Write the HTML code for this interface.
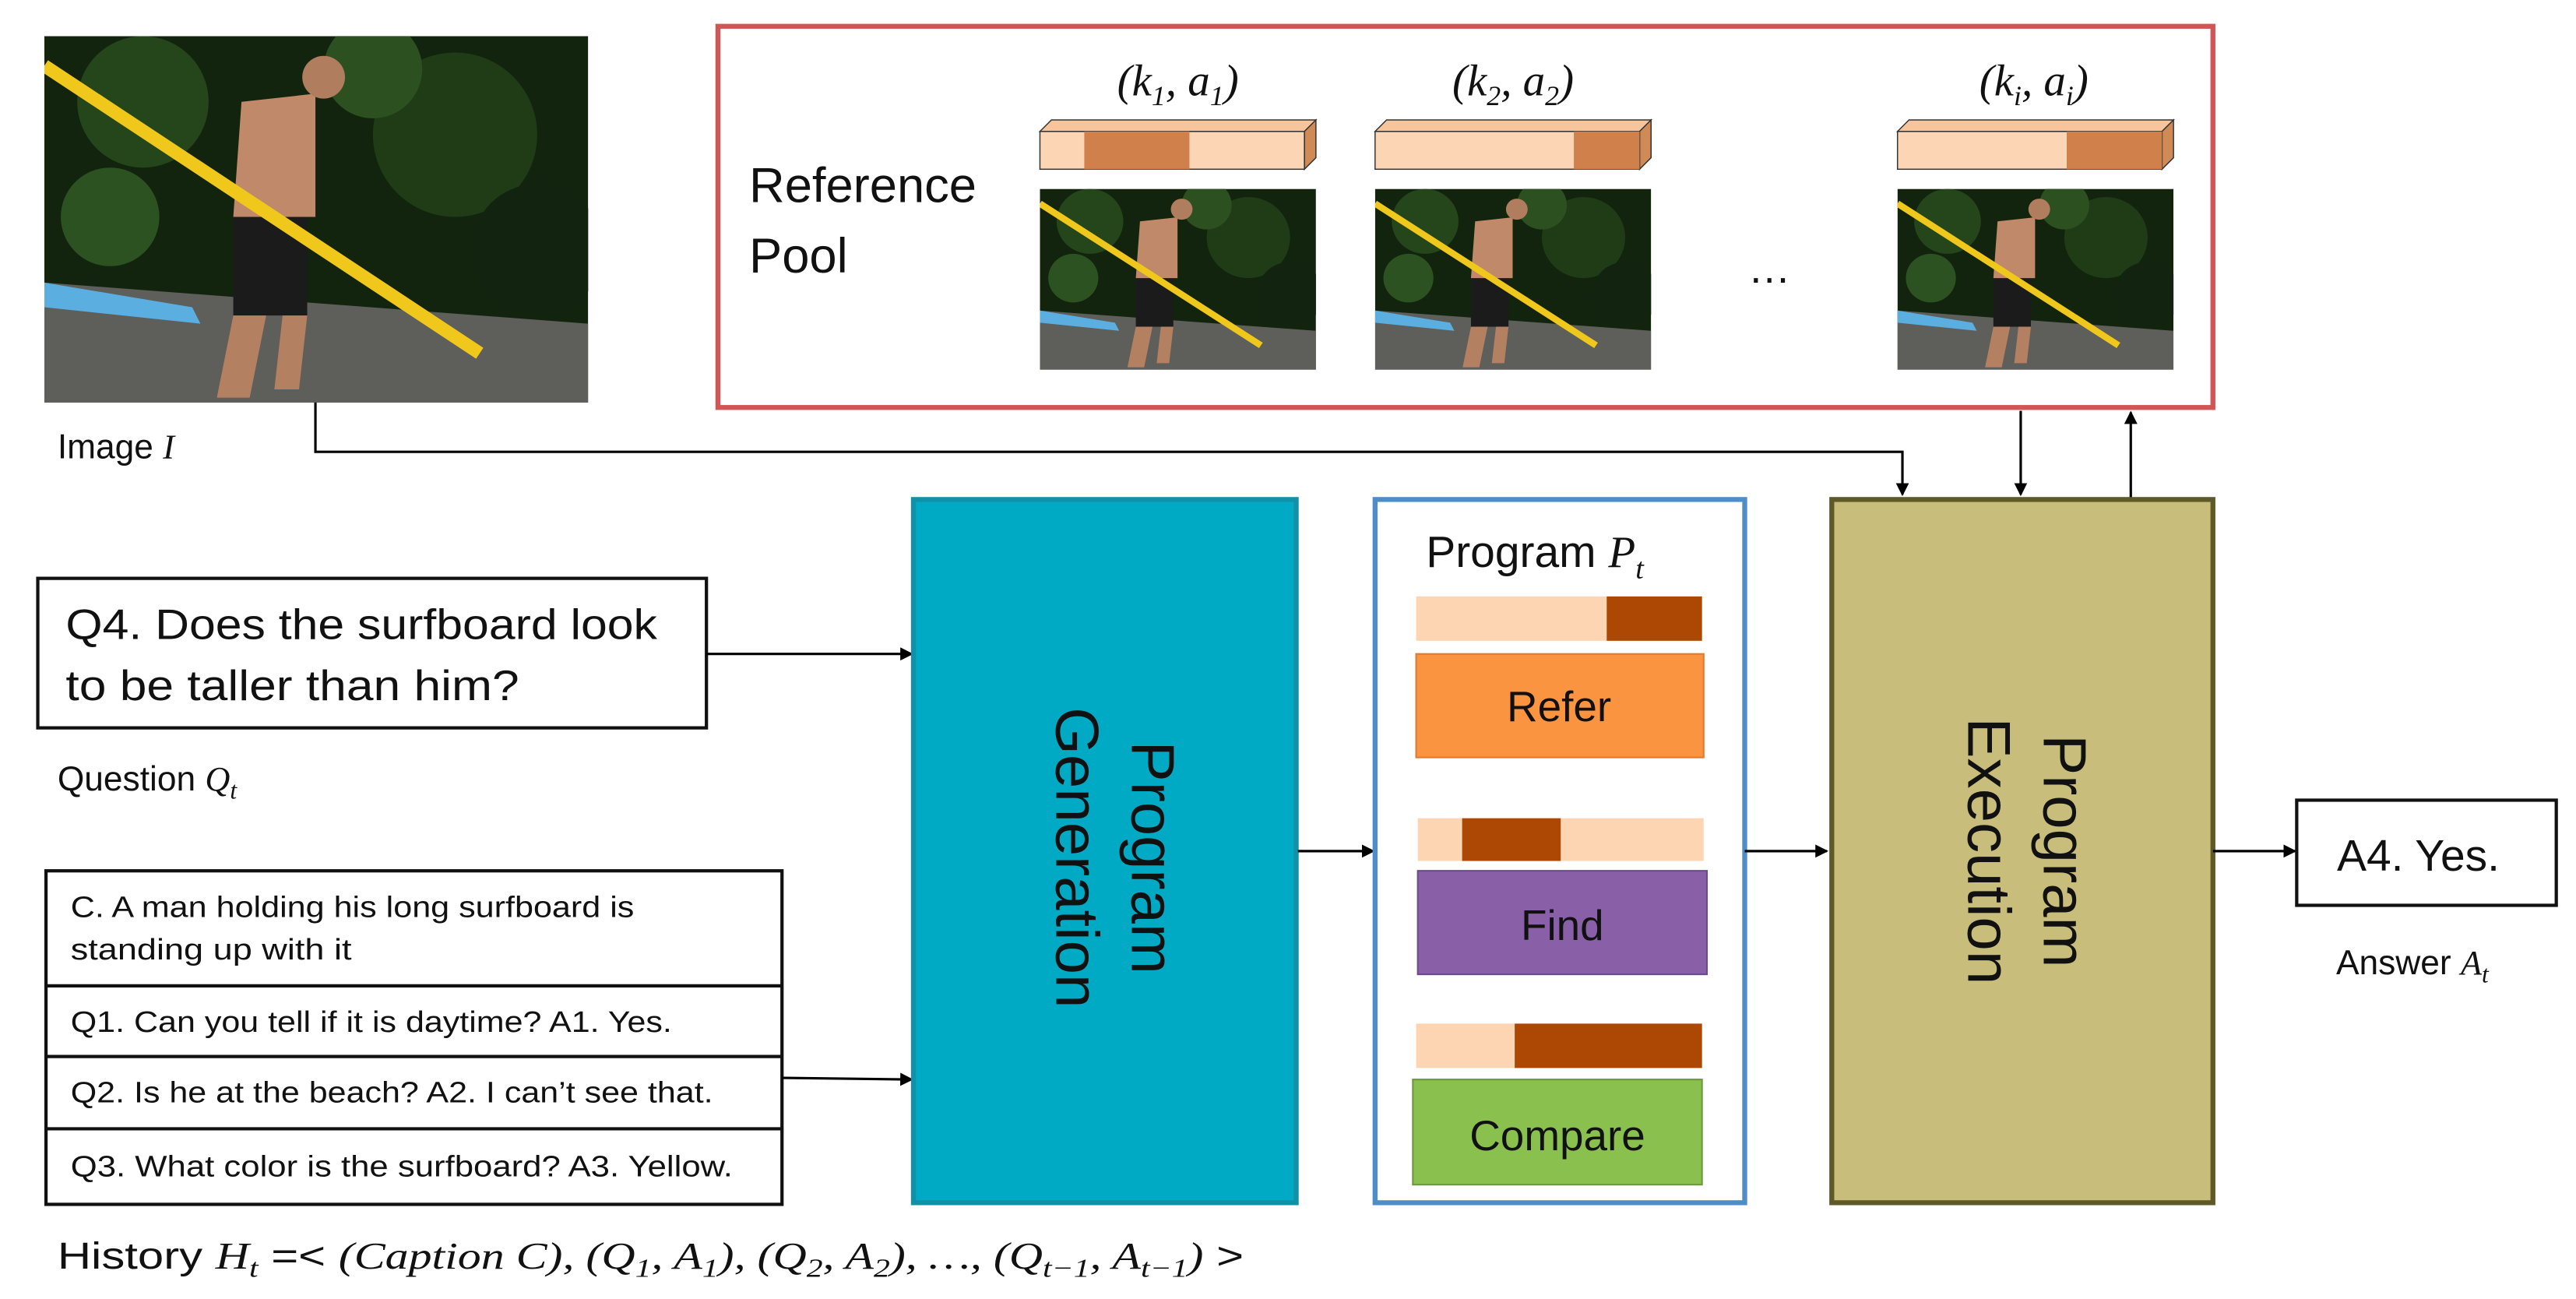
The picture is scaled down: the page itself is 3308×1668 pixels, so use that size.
<!DOCTYPE html>
<html><head><meta charset="utf-8"><style>
html,body{margin:0;padding:0;background:#fff;}
svg{display:block;}
text{font-family:"Liberation Sans",sans-serif;fill:#111;}
.m{font-family:"Liberation Serif",serif;font-style:italic;}
</style></head><body>
<svg width="3308" height="1668" viewBox="0 0 1568 790.6" preserveAspectRatio="none" xmlns="http://www.w3.org/2000/svg">
<defs>
<marker id="ar" markerWidth="8" markerHeight="8" refX="7" refY="4" orient="auto" markerUnits="userSpaceOnUse">
<path d="M0,0 L8,4 L0,8 z" fill="#000"/></marker>
<symbol id="photo" viewBox="0 0 331 223" preserveAspectRatio="none">
<rect width="331" height="223" fill="#13240e"/>
<circle cx="60" cy="40" r="40" fill="#24461a"/><circle cx="250" cy="60" r="50" fill="#1f3c16"/>
<circle cx="300" cy="130" r="40" fill="#122410"/><circle cx="40" cy="110" r="30" fill="#2b5220"/>
<circle cx="200" cy="20" r="30" fill="#2c5020"/>
<polygon points="0,150 331,175 331,223 0,223" fill="#5e5e5a"/>
<polygon points="0,150 90,165 95,175 0,165" fill="#5aaee0"/>
<rect x="115" y="110" width="45" height="60" fill="#1b1b1b"/>
<polygon points="120,40 165,35 165,110 115,110" fill="#c08a6a"/>
<circle cx="170" cy="25" r="13" fill="#b07e5e"/>
<polygon points="115,170 135,170 125,220 105,220" fill="#b48062"/>
<polygon points="145,170 160,170 155,215 140,215" fill="#b48062"/>
<line x1="0" y1="18" x2="265" y2="193" stroke="#f0c81c" stroke-width="8"/>
</symbol>
</defs>

<use href="#photo" x="27" y="22" width="331" height="223"/>
<text x="35" y="279" font-size="21">Image <tspan class="m">I</tspan></text>

<rect x="437" y="16" width="910" height="232" fill="#fff" stroke="#d05555" stroke-width="3"/>
<text x="456" y="123" font-size="30">Reference</text>
<text x="456" y="166" font-size="30">Pool</text>

<g>
<text x="717" y="58" font-size="27" text-anchor="middle" class="m">(k<tspan font-size="17" dy="6">1</tspan><tspan dy="-6">, a</tspan><tspan font-size="17" dy="6">1</tspan><tspan dy="-6">)</tspan></text>
<polygon points="633,80 640,73 801,73 794,80" fill="#f7c49b" stroke="#333" stroke-width="0.7"/>
<polygon points="794,80 801,73 801,96 794,103" fill="#d08a55" stroke="#333" stroke-width="0.7"/>
<rect x="633" y="80" width="161" height="23" fill="#fcd5b5" stroke="#333" stroke-width="0.7"/>
<rect x="660" y="80" width="64" height="23" fill="#d0804a"/>
<use href="#photo" x="633" y="115" width="168" height="110"/>
</g>
<g>
<text x="921" y="58" font-size="27" text-anchor="middle" class="m">(k<tspan font-size="17" dy="6">2</tspan><tspan dy="-6">, a</tspan><tspan font-size="17" dy="6">2</tspan><tspan dy="-6">)</tspan></text>
<polygon points="837,80 844,73 1005,73 998,80" fill="#f7c49b" stroke="#333" stroke-width="0.7"/>
<polygon points="998,80 1005,73 1005,96 998,103" fill="#d08a55" stroke="#333" stroke-width="0.7"/>
<rect x="837" y="80" width="161" height="23" fill="#fcd5b5" stroke="#333" stroke-width="0.7"/>
<rect x="958" y="80" width="40" height="23" fill="#d0804a"/>
<use href="#photo" x="837" y="115" width="168" height="110"/>
</g>
<text x="1077" y="172" font-size="26" text-anchor="middle">…</text>
<g>
<text x="1238" y="58" font-size="27" text-anchor="middle" class="m">(k<tspan font-size="17" dy="6">i</tspan><tspan dy="-6">, a</tspan><tspan font-size="17" dy="6">i</tspan><tspan dy="-6">)</tspan></text>
<polygon points="1155,80 1162,73 1323,73 1316,80" fill="#f7c49b" stroke="#333" stroke-width="0.7"/>
<polygon points="1316,80 1323,73 1323,96 1316,103" fill="#d08a55" stroke="#333" stroke-width="0.7"/>
<rect x="1155" y="80" width="161" height="23" fill="#fcd5b5" stroke="#333" stroke-width="0.7"/>
<rect x="1258" y="80" width="58" height="23" fill="#d0804a"/>
<use href="#photo" x="1155" y="115" width="168" height="110"/>
</g>

<polyline points="192,245 192,275 1158,275 1158,301" fill="none" stroke="#000" stroke-width="1.5" marker-end="url(#ar)"/>
<line x1="1230" y1="250" x2="1230" y2="301" stroke="#000" stroke-width="1.5" marker-end="url(#ar)"/>
<line x1="1297" y1="303" x2="1297" y2="251" stroke="#000" stroke-width="1.5" marker-end="url(#ar)"/>

<rect x="23" y="352" width="407" height="91" fill="#fff" stroke="#111" stroke-width="2"/>
<text x="40" y="389" font-size="26" textLength="360" lengthAdjust="spacingAndGlyphs">Q4. Does the surfboard look</text>
<text x="40" y="426" font-size="26" textLength="276" lengthAdjust="spacingAndGlyphs">to be taller than him?</text>
<text x="35" y="481" font-size="21">Question <tspan class="m">Q</tspan><tspan class="m" font-size="15" dy="5">t</tspan></text>
<line x1="430" y1="398" x2="555" y2="398" stroke="#000" stroke-width="1.5" marker-end="url(#ar)"/>

<rect x="28" y="530" width="448" height="203" fill="#fff" stroke="#111" stroke-width="2"/>
<line x1="28" y1="600" x2="476" y2="600" stroke="#111" stroke-width="2"/>
<line x1="28" y1="643" x2="476" y2="643" stroke="#111" stroke-width="2"/>
<line x1="28" y1="687" x2="476" y2="687" stroke="#111" stroke-width="2"/>
<text x="43" y="558" font-size="18" textLength="343" lengthAdjust="spacingAndGlyphs">C. A man holding his long surfboard is</text>
<text x="43" y="584" font-size="18" textLength="171" lengthAdjust="spacingAndGlyphs">standing up with it</text>
<text x="43" y="628" font-size="18" textLength="366" lengthAdjust="spacingAndGlyphs">Q1. Can you tell if it is daytime? A1. Yes.</text>
<text x="43" y="671" font-size="18" textLength="391" lengthAdjust="spacingAndGlyphs">Q2. Is he at the beach? A2. I can’t see that.</text>
<text x="43" y="716" font-size="18" textLength="403" lengthAdjust="spacingAndGlyphs">Q3. What color is the surfboard? A3. Yellow.</text>
<line x1="476" y1="656" x2="555" y2="657" stroke="#000" stroke-width="1.5" marker-end="url(#ar)"/>
<text x="35" y="772" font-size="23" textLength="722" lengthAdjust="spacingAndGlyphs">History <tspan class="m">H</tspan><tspan class="m" font-size="16" dy="5">t</tspan><tspan dy="-5"> =&lt; </tspan><tspan class="m">(Caption C), (Q</tspan><tspan class="m" font-size="16" dy="5">1</tspan><tspan class="m" dy="-5">, A</tspan><tspan class="m" font-size="16" dy="5">1</tspan><tspan class="m" dy="-5">), (Q</tspan><tspan class="m" font-size="16" dy="5">2</tspan><tspan class="m" dy="-5">, A</tspan><tspan class="m" font-size="16" dy="5">2</tspan><tspan class="m" dy="-5">), …, (Q</tspan><tspan class="m" font-size="16" dy="5">t−1</tspan><tspan class="m" dy="-5">, A</tspan><tspan class="m" font-size="16" dy="5">t−1</tspan><tspan class="m" dy="-5">)</tspan><tspan> &gt;</tspan></text>

<rect x="556" y="304" width="233" height="428" fill="#00aac4" stroke="#1290a8" stroke-width="3"/>
<g transform="translate(673,522) rotate(90)">
<text x="0" y="-16" font-size="37" text-anchor="middle">Program</text>
<text x="0" y="30" font-size="37" text-anchor="middle">Generation</text>
</g>
<line x1="790" y1="518" x2="836" y2="518" stroke="#000" stroke-width="1.5" marker-end="url(#ar)"/>

<rect x="837" y="304" width="225" height="428" fill="#fff" stroke="#4d8dc8" stroke-width="3"/>
<text x="868" y="345" font-size="27">Program <tspan class="m">P</tspan><tspan class="m" font-size="18" dy="7">t</tspan></text>
<rect x="862" y="363" width="174" height="27" fill="#fdd5b3"/>
<rect x="978" y="363" width="58" height="27" fill="#ad4804"/>
<rect x="862" y="398" width="175" height="63" fill="#fb9440" stroke="#e07a30" stroke-width="1"/>
<text x="949" y="439" font-size="26" text-anchor="middle">Refer</text>
<rect x="863" y="498" width="174" height="26" fill="#fdd5b3"/>
<rect x="890" y="498" width="60" height="26" fill="#ad4804"/>
<rect x="863" y="530" width="176" height="63" fill="#8960a8" stroke="#6d4a8a" stroke-width="1"/>
<text x="951" y="572" font-size="26" text-anchor="middle">Find</text>
<rect x="862" y="623" width="174" height="27" fill="#fdd5b3"/>
<rect x="922" y="623" width="114" height="27" fill="#ad4804"/>
<rect x="860" y="657" width="176" height="64" fill="#8ac04e" stroke="#6a9a3a" stroke-width="1"/>
<text x="948" y="700" font-size="26" text-anchor="middle">Compare</text>
<line x1="1062" y1="518" x2="1112" y2="518" stroke="#000" stroke-width="1.5" marker-end="url(#ar)"/>

<rect x="1115" y="304" width="232" height="428" fill="#c8bd7a" stroke="#5e5a28" stroke-width="3"/>
<g transform="translate(1228,518) rotate(90)">
<text x="0" y="-16" font-size="37" text-anchor="middle">Program</text>
<text x="0" y="30" font-size="37" text-anchor="middle">Execution</text>
</g>
<line x1="1347" y1="518" x2="1397" y2="518" stroke="#000" stroke-width="1.5" marker-end="url(#ar)"/>

<rect x="1398" y="487" width="158" height="64" fill="#fff" stroke="#111" stroke-width="2"/>
<text x="1472" y="530" font-size="27" text-anchor="middle">A4. Yes.</text>
<text x="1422" y="593" font-size="21">Answer <tspan class="m">A</tspan><tspan class="m" font-size="15" dy="5">t</tspan></text>
</svg>
</body></html>
